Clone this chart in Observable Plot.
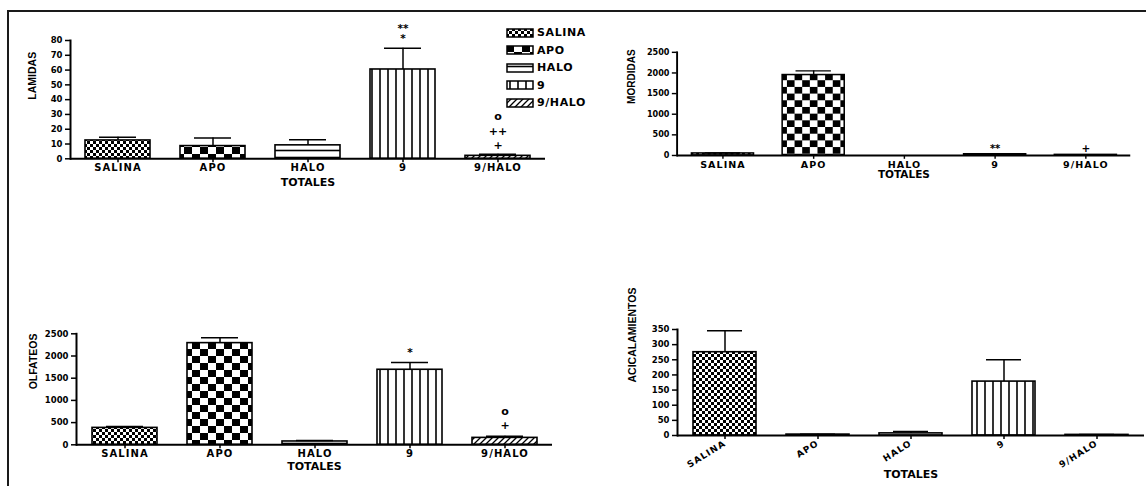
<!DOCTYPE html>
<html><head><meta charset="utf-8">
<script src="https://cdn.jsdelivr.net/npm/d3@7"></script>
<script src="https://cdn.jsdelivr.net/npm/@observablehq/plot@0.6"></script>
<style>
html,body{margin:0;padding:0;background:#fff;}
#root{position:relative;width:1146px;height:486px;overflow:hidden;background:#fff;font-family:"DejaVu Sans",sans-serif;}
#border{position:absolute;left:7px;top:10px;width:1160px;height:500px;border-top:2px solid #1a1a1a;border-left:2px solid #1a1a1a;}
.panel{position:absolute;}
.panel svg{overflow:visible;}
g[aria-label="x-axis tick label"] text{letter-spacing:1.1px;}
#legend{position:absolute;left:506px;top:24px;font:bold 11px "DejaVu Sans",sans-serif;letter-spacing:0.6px;color:#000;}
.lrow{display:flex;align-items:center;height:17.5px;white-space:nowrap;}
.lrow svg{margin-right:3px;display:block;}
</style></head>
<body>
<svg width="0" height="0" style="position:absolute">
  <defs>
    <pattern id="pat-salina" width="6" height="6" patternUnits="userSpaceOnUse">
      <rect width="6" height="6" fill="#fff"/>
      <rect width="3" height="3" fill="#000"/>
      <rect x="3" y="3" width="3" height="3" fill="#000"/>
    </pattern>
    <pattern id="pat-apo" width="16" height="14" patternUnits="userSpaceOnUse">
      <rect width="16" height="14" fill="#fff"/>
      <rect width="8" height="7" fill="#000"/>
      <rect x="8" y="7" width="8" height="7" fill="#000"/>
    </pattern>
    <pattern id="pat-halo" width="8" height="7" patternUnits="userSpaceOnUse">
      <rect width="8" height="7" fill="#fff"/>
      <line x1="0" y1="3.5" x2="8" y2="3.5" stroke="#000" stroke-width="1.6"/>
    </pattern>
    <pattern id="pat-nueve" width="8" height="8" patternUnits="userSpaceOnUse">
      <rect width="8" height="8" fill="#fff"/>
      <line x1="4" y1="0" x2="4" y2="8" stroke="#000" stroke-width="1.6"/>
    </pattern>
    <pattern id="pat-nuevehalo" width="6" height="6" patternUnits="userSpaceOnUse">
      <rect width="6" height="6" fill="#fff"/>
      <path d="M0,6 L6,0 M-1,1 L1,-1 M5,7 L7,5" stroke="#000" stroke-width="1.3"/>
    </pattern>
  </defs>
</svg>
<div id="root">
  <div id="border"></div>
  <div id="legend"></div>
</div>
<script>
// ---- data ----
const categories = ["SALINA", "APO", "HALO", "9", "9/HALO"];

const lamidasMean  = [12.4, 8.6, 9.1, 60.4, 2.0];
const lamidasUpper = [14.6, 14.0, 12.9, 74.8, 3.0];
const lamidasSigA  = ["", "", "", "**\n*", ""];
const lamidasSigB  = ["", "", "", "", "o\n++\n+"];
const lamidasTicks = [0, 10, 20, 30, 40, 50, 60, 70, 80];

const mordidasMean  = [50, 1950, 0, 30, 15];
const mordidasUpper = [60, 2050, 0, 35, 18];
const mordidasSigA  = ["", "", "", "**", ""];
const mordidasSigB  = ["", "", "", "", "+"];
const mordidasTicks = [0, 500, 1000, 1500, 2000, 2500];

const olfateosMean  = [381, 2290, 75, 1690, 156];
const olfateosUpper = [412, 2410, 97, 1854, 195];
const olfateosSigA  = ["", "", "", "*", ""];
const olfateosSigB  = ["", "", "", "", "o\n+"];
const olfateosTicks = [0, 500, 1000, 1500, 2000, 2500];

const acicalMean  = [275, 3, 7, 178, 2];
const acicalUpper = [346, 4, 13, 250, 3];
const acicalSigA  = ["", "", "", "", ""];
const acicalSigB  = ["", "", "", "", ""];
const acicalTicks = [0, 50, 100, 150, 200, 250, 300, 350];

// ---- styles ----
const patternFor = {"SALINA": "pat-salina", "APO": "pat-apo", "HALO": "pat-halo", "9": "pat-nueve", "9/HALO": "pat-nuevehalo"};

function makePanel(cfg) {
  const rows = categories.map((cat, i) => ({
    cat, mean: cfg.mean[i], upper: cfg.upper[i], sigA: cfg.sigA[i], sigB: cfg.sigB[i],
    fill: `url(#${patternFor[cat]})`
  }));
  const chart = Plot.plot({
    width: cfg.w, height: cfg.h,
    marginLeft: cfg.ml, marginRight: cfg.mr, marginTop: cfg.mt, marginBottom: cfg.mb,
    style: {background: "transparent", color: "#000", fontFamily: '"DejaVu Sans", sans-serif', fontWeight: "bold", fontSize: "10px", overflow: "visible"},
    x: {domain: categories, paddingInner: 0.32, paddingOuter: 0.16},
    y: {domain: cfg.domain},
    color: {type: "identity"},
    marks: [
      Plot.barY(rows, {x: "cat", y: "mean", fill: "fill", stroke: "#000", strokeWidth: 1.6}),
      Plot.ruleX(rows, {x: "cat", y1: "mean", y2: "upper", stroke: "#000", strokeWidth: 1.5}),
      Plot.tickY(rows.filter(d => d.upper > 0), {x: "cat", y: "upper", stroke: "#000", strokeWidth: 1.5, insetLeft: 14, insetRight: 14}),
      Plot.ruleY([0], {stroke: "#000", strokeWidth: 2}),
      Plot.frame({anchor: "left", stroke: "#000", strokeWidth: 2}),
      Plot.axisY({ticks: cfg.ticks, tickFormat: d3.format("d"), tickSize: 5, tickPadding: 3, fontSize: 8.5, strokeWidth: 1.5, label: null}),
      Plot.axisX({tickSize: 4, tickPadding: cfg.rotate ? 3 : 1.5, fontSize: cfg.xFont, tickRotate: cfg.rotate, strokeWidth: 1.5, label: null}),
      Plot.text([cfg.yTitle], {frameAnchor: "left", rotate: -90, dx: cfg.yTitleDx, fontFamily: '"Liberation Sans", Arial, sans-serif', fontSize: 10.5, fontWeight: "bold"}),
      Plot.text(["TOTALES"], {frameAnchor: "bottom", lineAnchor: "middle", dy: cfg.xTitleDy, fontSize: 11}),
      Plot.text(rows, {x: "cat", y: "upper", text: "sigA", lineAnchor: "bottom", lineHeight: 1.0, dy: cfg.dyA, fontSize: 10.5}),
      Plot.text(rows, {x: "cat", y: "upper", text: "sigB", lineAnchor: "bottom", lineHeight: 1.32, dy: cfg.dyB, fontSize: 11})
    ]
  });
  const div = document.createElement("div");
  div.className = "panel";
  div.style.left = cfg.left + "px";
  div.style.top = cfg.top + "px";
  div.appendChild(chart);
  document.getElementById("root").appendChild(div);
}

makePanel({left: 0, top: 0, w: 573, h: 200, ml: 70, mr: 28, mt: 40, mb: 41.7,
  domain: [0, 80], ticks: lamidasTicks, mean: lamidasMean, upper: lamidasUpper, sigA: lamidasSigA, sigB: lamidasSigB,
  yTitle: "LAMIDAS", yTitleDx: -37.4, xTitleDy: 23.4, xFont: 10, rotate: 0, dyA: -6, dyB: -5});

makePanel({left: 573, top: 0, w: 600, h: 200, ml: 108.5, mr: 16.5, mt: 54.3, mb: 37.7,
  domain: [0, 2500], ticks: mordidasTicks, mean: mordidasMean, upper: mordidasUpper, sigA: mordidasSigA, sigB: mordidasSigB,
  yTitle: "MORDIDAS", yTitleDx: -47.8, xTitleDy: 20.4, xFont: 10, rotate: 0, dyA: -2, dyB: -3});

makePanel({left: 0, top: 300, w: 573, h: 186, ml: 76, mr: 21, mt: 33.3, mb: 41.7,
  domain: [0, 2500], ticks: olfateosTicks, mean: olfateosMean, upper: olfateosUpper, sigA: olfateosSigA, sigB: olfateosSigB,
  yTitle: "OLFATEOS", yTitleDx: -42.7, xTitleDy: 21.7, xFont: 10, rotate: 0, dyA: -6, dyB: -7});

makePanel({left: 573, top: 300, w: 573, h: 186, ml: 104, mr: 2, mt: 29, mb: 51,
  domain: [0, 350], ticks: acicalTicks, mean: acicalMean, upper: acicalUpper, sigA: acicalSigA, sigB: acicalSigB,
  yTitle: "ACICALAMIENTOS", yTitleDx: -45, xTitleDy: 39.3, xFont: 9, rotate: -32, dyA: -5, dyB: -5});

// legend
const legend = document.getElementById("legend");
categories.forEach(cat => {
  const row = document.createElement("div");
  row.className = "lrow";
  row.innerHTML = `<svg width="28" height="10"><rect x="1" y="1" width="26" height="8" fill="url(#${patternFor[cat]})" stroke="#000" stroke-width="1.5"/></svg><span>${cat}</span>`;
  legend.appendChild(row);
});
</script>
</body></html>
